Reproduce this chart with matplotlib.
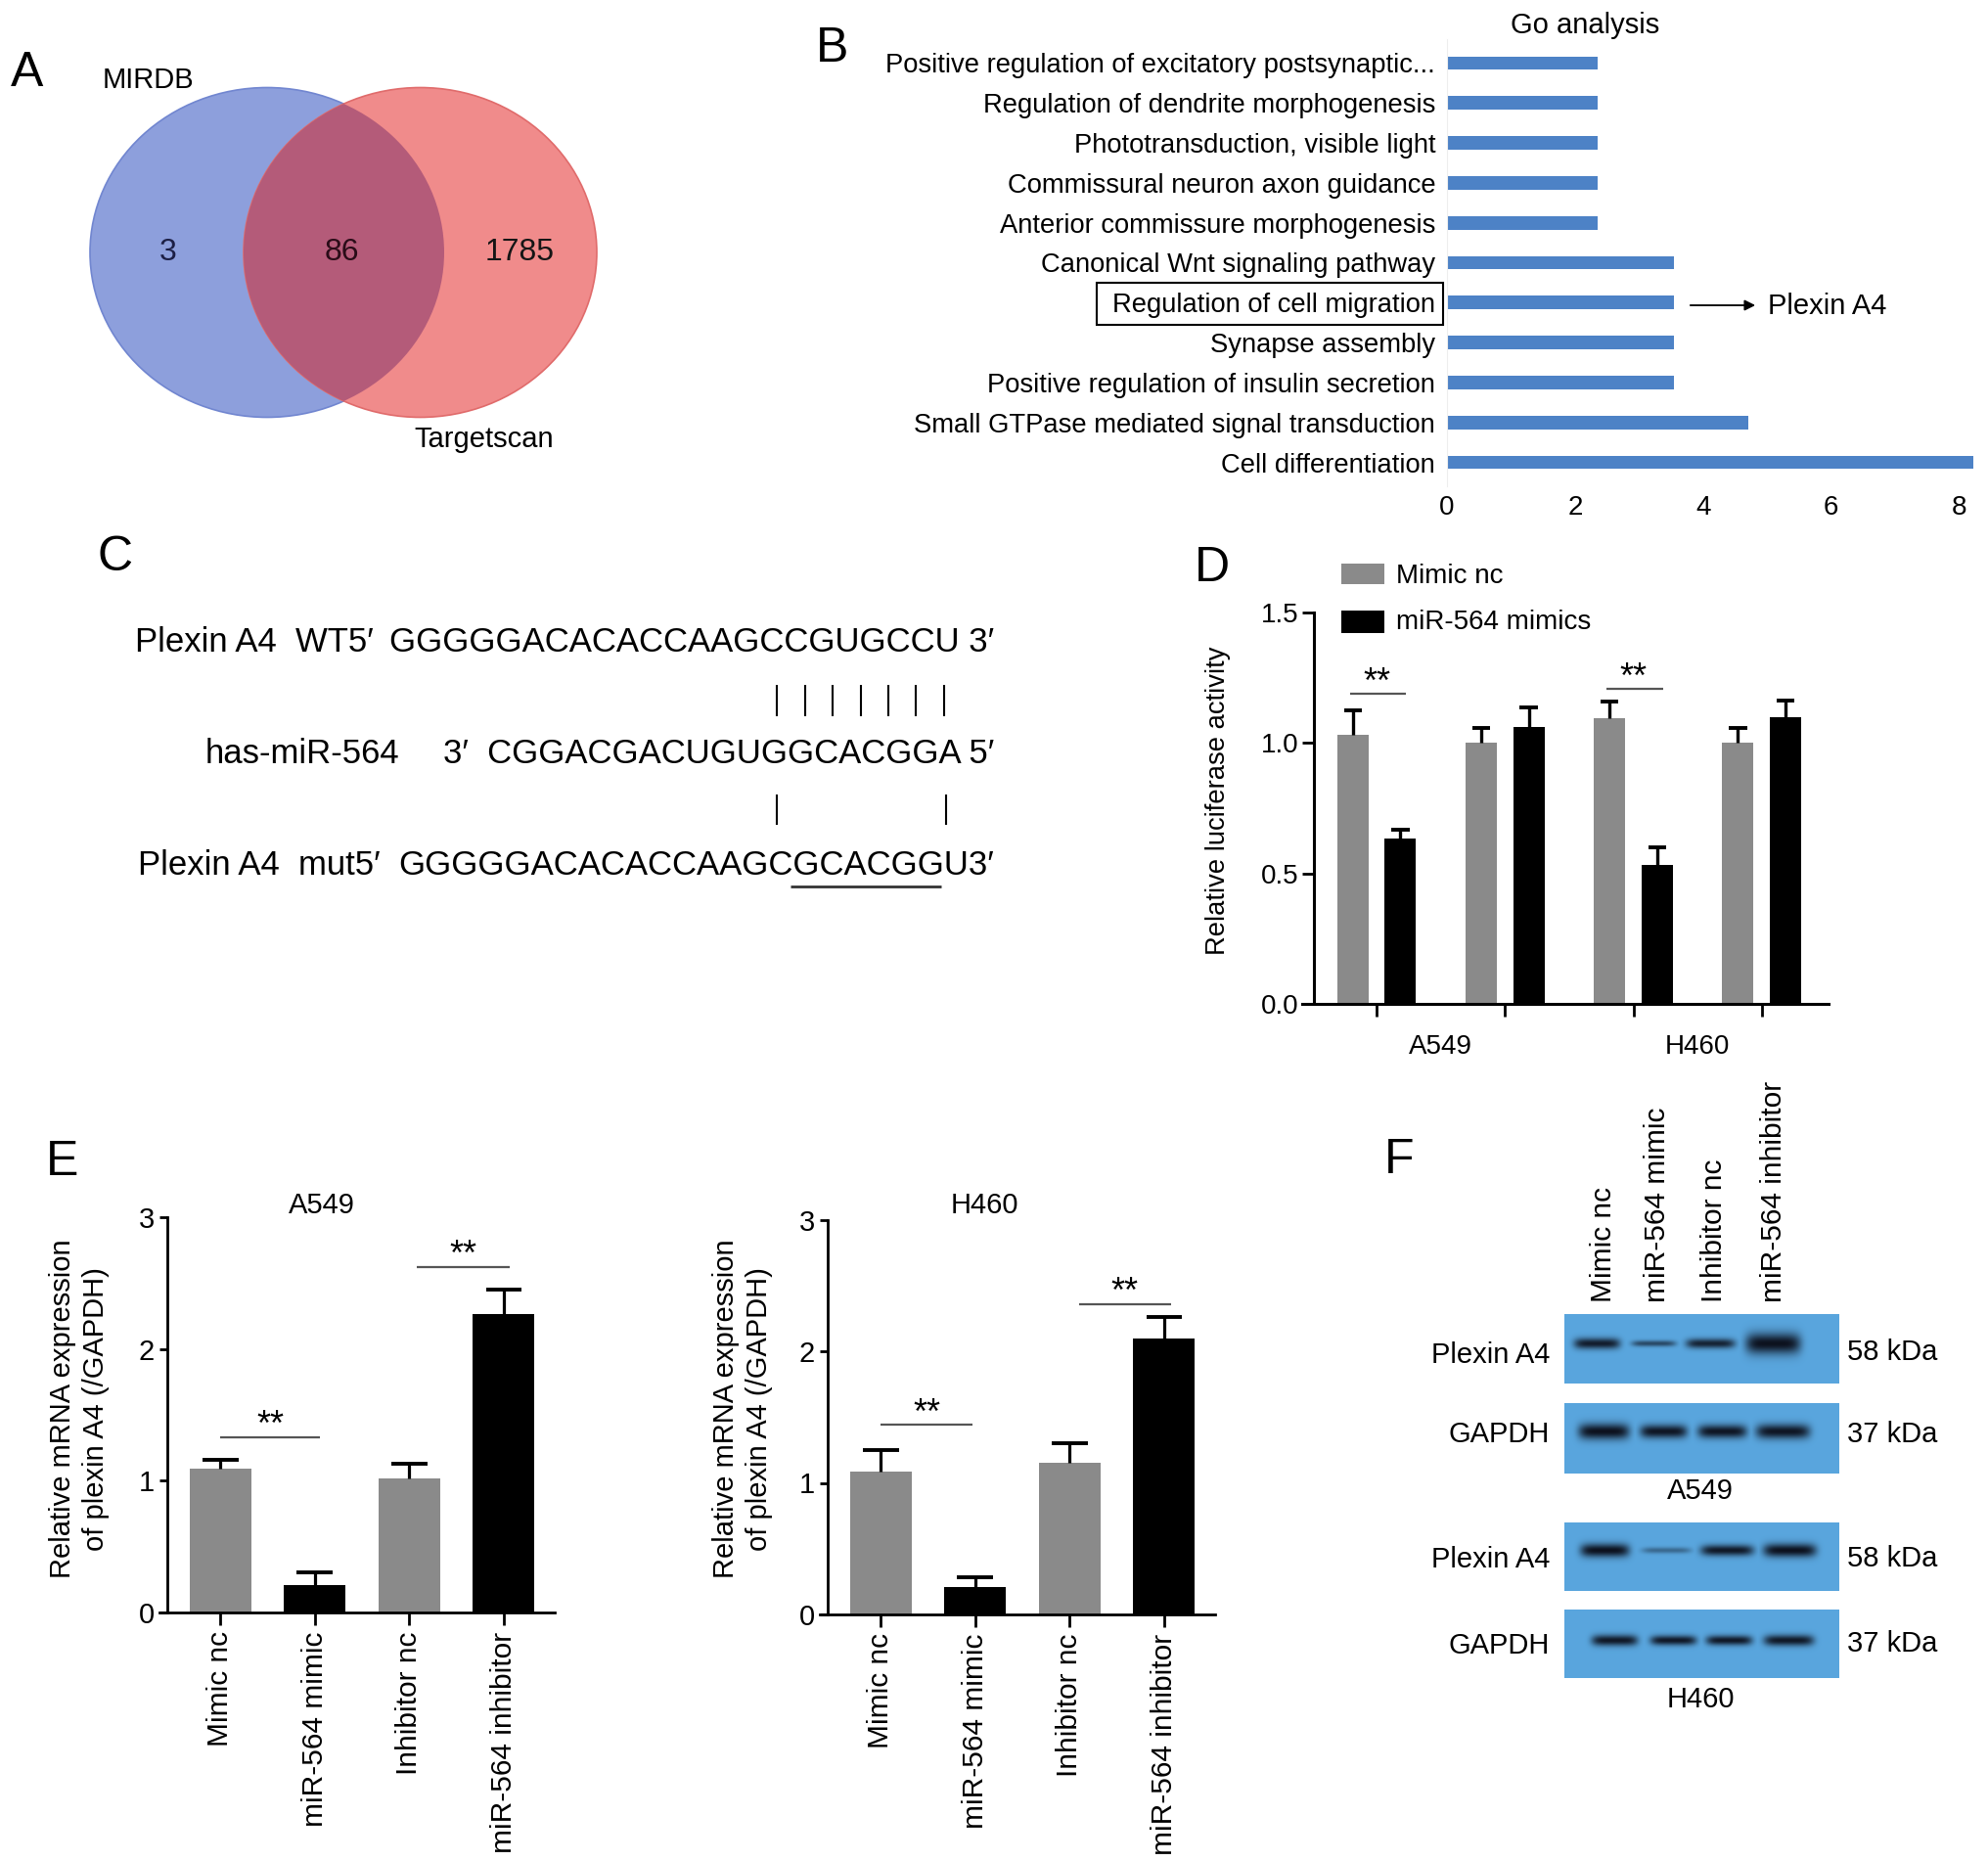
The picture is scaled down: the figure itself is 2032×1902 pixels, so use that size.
import numpy as np
import matplotlib
matplotlib.use('Agg')
import matplotlib.pyplot as plt
from matplotlib.patches import Ellipse, Rectangle

plt.rcParams['font.family'] = ['Liberation Sans', 'DejaVu Sans']

# ---- data ----
# A: Venn
venn_counts = [3, 86, 1785]
venn_names = ['MIRDB', 'Targetscan']

# B: GO analysis (top to bottom)
go_terms = ['Positive regulation of excitatory postsynaptic...',
            'Regulation of dendrite morphogenesis',
            'Phototransduction, visible light',
            'Commissural neuron axon guidance',
            'Anterior commissure morphogenesis',
            'Canonical Wnt signaling pathway',
            'Regulation of cell migration',
            'Synapse assembly',
            'Positive regulation of insulin secretion',
            'Small GTPase mediated signal transduction',
            'Cell differentiation']
go_values = [2.36, 2.36, 2.36, 2.36, 2.36, 3.54, 3.54, 3.54, 3.54, 4.71, 8.22]

# C: sequences
wt_seq = 'GGGGGACACACCAAGCCGUGCCU'
mir_seq = 'CGGACGACUGUGGCACGGA'
mut_seq = 'GGGGGACACACCAAGCGCACGGU'

# D: luciferase
luc_groups = ['A549', 'H460']
luc_legend = ['Mimic nc', 'miR-564 mimics']
luc_nc = [1.03, 1.00, 1.094, 1.00]
luc_nc_err = [0.094, 0.059, 0.063, 0.059]
luc_mim = [0.633, 1.063, 0.532, 1.10]
luc_mim_err = [0.036, 0.074, 0.067, 0.061]
luc_sig = [(0, 1.187), (2, 1.207)]

# E: qPCR
e_labels = ['Mimic nc', 'miR-564 mimic', 'Inhibitor nc', 'miR-564 inhibitor']
e_a549 = [1.095, 0.209, 1.019, 2.262]
e_a549_err = [0.065, 0.095, 0.11, 0.19]
e_h460 = [1.088, 0.206, 1.153, 2.099]
e_h460_err = [0.164, 0.08, 0.145, 0.161]
e_a549_sig = [(0, 1.05, 1.331), (2.08, 3.06, 2.624)]
e_h460_sig = [(0, 0.97, 1.443), (2.1, 3.07, 2.359)]

# F: western blot
blot_rows = ['Plexin A4', 'GAPDH', 'Plexin A4', 'GAPDH']
blot_kda = ['58 kDa', '37 kDa', '58 kDa', '37 kDa']
blot_intensity = [[0.92, 0.62, 0.88, 1.0],
                  [1.0, 0.97, 0.97, 0.97],
                  [1.0, 0.4, 0.95, 1.0],
                  [0.95, 0.95, 0.95, 0.95]]

GRAY = '#8a8a8a'
W, H = 2032, 1902
fig = plt.figure(figsize=(W / 100, H / 100), dpi=100)

bg = fig.add_axes([0, 0, 1, 1])
bg.set_axis_off()


def px_axes(x0, y0, x1, y1):
    ax = fig.add_axes([x0 / W, 1 - y1 / H, (x1 - x0) / W, (y1 - y0) / H])
    ax.patch.set_visible(False)
    return ax


# panel letters
for lab, x, y in [('A', 28, 75), ('B', 851, 50), ('C', 118, 570),
                  ('D', 1239, 581), ('E', 64, 1188), ('F', 1430, 1186)]:
    bg.text(x, y, lab, fontsize=36, ha='center', va='center')

# ---- A: Venn ----
blue = Ellipse((273, 258), 362, 337, fc='#8d9fdc', ec='#7186d0', lw=1.2)
red = Ellipse((429.5, 258), 361, 337, fc='#f08b8b', ec='#e06b6b', lw=1.2)
bg.add_patch(blue)
bg.add_patch(red)
ov = Ellipse((429.5, 258), 361, 337, fc='#b45b79', ec='none')
bg.add_patch(ov)
ov.set_clip_path(blue)
bg.text(172, 258, str(venn_counts[0]), fontsize=23, ha='center', va='center', color='#1c1f45')
bg.text(349, 258, str(venn_counts[1]), fontsize=23, ha='center', va='center', color='#2a0c18')
bg.text(531, 258, str(venn_counts[2]), fontsize=23, ha='center', va='center', color='#151515')
bg.text(151, 82, venn_names[0], fontsize=21, ha='center', va='center')
bg.text(495, 449, venn_names[1], fontsize=21, ha='center', va='center')

# ---- B: GO bars ----
axB = px_axes(1479, 40, 2019, 497)
pos = np.arange(len(go_terms))
axB.barh(pos, go_values, height=0.34, color='#4d82c6')
axB.set_ylim(len(go_terms) - 0.4, -0.6)
axB.set_xlim(0, 8.25)
axB.set_yticks(pos, go_terms)
axB.set_xticks([0, 2, 4, 6, 8])
axB.tick_params(axis='y', length=0, pad=8.5, labelsize=19.7)
axB.tick_params(axis='x', length=0, pad=6.5, labelsize=20)
for s in ['top', 'right', 'bottom']:
    axB.spines[s].set_visible(False)
axB.spines['left'].set_color('#eeeeee')
bg.text(1620, 26, 'Go analysis', fontsize=21, ha='center', va='center')
bg.add_patch(Rectangle((1121, 289), 354, 43, fill=False, ec='k', lw=1.5))
bg.annotate('', xy=(1797, 312), xytext=(1725, 312),
            arrowprops=dict(arrowstyle='-|>', color='k', lw=1.3, mutation_scale=16))
bg.text(1807, 313, 'Plexin A4', fontsize=21, ha='left', va='center')

# ---- C: sequences ----
fc = 25
bg.text(138, 657, 'Plexin A4  WT5′', fontsize=fc, ha='left', va='center')
bg.text(398, 657, wt_seq + ' 3′', fontsize=fc, ha='left', va='center')
bg.text(210, 770, 'has-miR-564', fontsize=fc, ha='left', va='center')
bg.text(453, 770, '3′  ' + mir_seq + ' 5′', fontsize=fc, ha='left', va='center')
bg.text(141, 884, 'Plexin A4  mut5′', fontsize=fc, ha='left', va='center')
bg.text(407, 884, mut_seq + '3′', fontsize=fc, ha='left', va='center')
bg.vlines([794, 823, 851, 880, 908, 936, 965], 700, 732, color='k', lw=1.5)
bg.vlines([794, 967], 812, 843, color='k', lw=1.5)
bg.hlines(906, 808, 962, color='#333333', lw=2)

# ---- D: luciferase ----
axD = px_axes(1331, 626, 1869, 1026)
x = np.arange(4)
bw = 0.244
axD.bar(x - 0.185, luc_nc, bw, color=GRAY, zorder=2)
axD.bar(x + 0.185, luc_mim, bw, color='black', zorder=2)
for xs, v, e in list(zip(x - 0.185, luc_nc, luc_nc_err)) + list(zip(x + 0.185, luc_mim, luc_mim_err)):
    axD.vlines(xs, v, v + e, color='k', lw=2.4, zorder=3)
    axD.hlines(v + e, xs - 0.07, xs + 0.07, color='k', lw=2.8, zorder=3)
for i, hgt in luc_sig:
    axD.hlines(hgt, i - 0.21, i + 0.23, color='#555555', lw=1.6)
    axD.text(i, hgt + 0.004, '**', fontsize=26, ha='center', va='baseline')
axD.set_xlim(-0.58, 3.52)
axD.set_ylim(0, 1.5)
axD.spines['left'].set_position(('data', -0.49))
for s in ['top', 'right']:
    axD.spines[s].set_visible(False)
for s in ['left', 'bottom']:
    axD.spines[s].set_linewidth(2.2)
axD.set_yticks([0, 0.5, 1.0, 1.5], ['0.0', '0.5', '1.0', '1.5'])
axD.set_xticks(x, [''] * 4)
axD.set_xticks([0.5, 2.5], luc_groups, minor=True)
axD.tick_params(axis='y', direction='out', length=9, width=2, pad=2, labelsize=20)
axD.tick_params(axis='x', which='major', direction='out', length=9, width=2)
axD.tick_params(axis='x', which='minor', length=0, pad=22, labelsize=20)
bg.text(1245, 818, 'Relative luciferase activity', fontsize=19.7, rotation=90,
        ha='center', va='center')
bg.add_patch(Rectangle((1371, 576), 44, 21, fc=GRAY, ec='none'))
bg.add_patch(Rectangle((1371, 624), 44, 23, fc='black', ec='none'))
bg.text(1427, 589, luc_legend[0], fontsize=20, ha='left', va='center')
bg.text(1427, 636, luc_legend[1], fontsize=20, ha='left', va='center')


# ---- E: qPCR ----
def qpcr(box, vals, errs, sigs, title, title_x, ylab_x):
    ax = px_axes(*box)
    xx = np.arange(4)
    ax.bar(xx, vals, 0.65, color=[GRAY, 'black', GRAY, 'black'], zorder=2)
    for xs, v, e in zip(xx, vals, errs):
        ax.vlines(xs, v, v + e, color='k', lw=2.3, zorder=3)
        ax.hlines(v + e, xs - 0.19, xs + 0.19, color='k', lw=2.8, zorder=3)
    for a, b, hgt in sigs:
        ax.hlines(hgt, a, b, color='#555555', lw=1.6)
        ax.text((a + b) / 2, hgt + 0.01, '**', fontsize=26, ha='center', va='baseline')
    ax.set_xlim(-0.65, 3.54)
    ax.set_ylim(0, 3)
    ax.spines['left'].set_position(('data', -0.566))
    for s in ['top', 'right']:
        ax.spines[s].set_visible(False)
    for s in ['left', 'bottom']:
        ax.spines[s].set_linewidth(2)
    ax.set_yticks([0, 1, 2, 3])
    ax.set_xticks(xx, e_labels, rotation=90)
    ax.tick_params(axis='y', direction='out', length=6, width=2, pad=3, labelsize=21)
    ax.tick_params(axis='x', direction='out', length=9, width=2, pad=5, labelsize=21.5)
    bg.text(title_x, 1232, title, fontsize=21, ha='center', va='center')
    bg.text(ylab_x, 1440, 'Relative mRNA expression\nof plexin A4 (/GAPDH)', fontsize=21,
            rotation=90, ha='center', va='center', linespacing=1.25, multialignment='center')


qpcr((162.5, 1244, 567, 1648), e_a549, e_a549_err, e_a549_sig, 'A549', 329, 81)
qpcr((837.5, 1246.5, 1242, 1650), e_h460, e_h460_err, e_h460_sig, 'H460', 1006, 759)

# ---- F: western blots ----
panels = [(1343.6, 1414, 1373.7, [1632, 1690, 1748, 1812], [47, 45, 50, 56], [9, 5, 8, 17]),
          (1434, 1506, 1463, [1639, 1700, 1760, 1822], [52, 48, 50, 55], [13, 11, 11, 12]),
          (1556, 1626, 1584.5, [1640, 1703, 1765, 1829], [50, 50, 54, 54], [11, 5, 9, 11]),
          (1645, 1715, 1676.5, [1650, 1710, 1767, 1828], [47, 47, 47, 51], [9, 8, 8, 9])]
bx0, bx1 = 1598.5, 1879
base = np.array([0.35, 0.65, 0.87])
dark = np.array([0.05, 0.07, 0.12])
for (y0, y1, yc, cs, ws, ts), inten in zip(panels, blot_intensity):
    xs = np.arange(bx0, bx1) + 0.5
    ys = np.arange(y0, y1) + 0.5
    X, Y = np.meshgrid(xs, ys)
    d = np.zeros_like(X)
    for c, w, t, s in zip(cs, ws, ts, inten):
        d = np.maximum(d, s * np.exp(-((X - c) / (w / 2)) ** 6) * np.exp(-((Y - yc) / (t / 1.6)) ** 2))
    img = base * (1 - d[..., None]) + dark * d[..., None]
    bg.imshow(img, extent=(bx0, bx1, y1, y0), aspect='auto', interpolation='bilinear', zorder=2)

for lab, y in zip(blot_rows, [1385, 1466, 1593.5, 1682]):
    bg.text(1584, y, lab, fontsize=21, ha='right', va='center')
for lab, y in zip(blot_kda, [1382, 1466, 1593, 1680]):
    bg.text(1888, y, lab, fontsize=21, ha='left', va='center')
bg.text(1738, 1524, 'A549', fontsize=21, ha='center', va='center')
bg.text(1738, 1737, 'H460', fontsize=21, ha='center', va='center')
for lab, xl in zip(e_labels, [1639, 1694, 1752, 1813]):
    bg.text(xl, 1331, lab, fontsize=21.5, rotation=90, ha='center', va='bottom')

bg.set_xlim(0, W)
bg.set_ylim(H, 0)
fig.savefig('out.png', dpi=100)
